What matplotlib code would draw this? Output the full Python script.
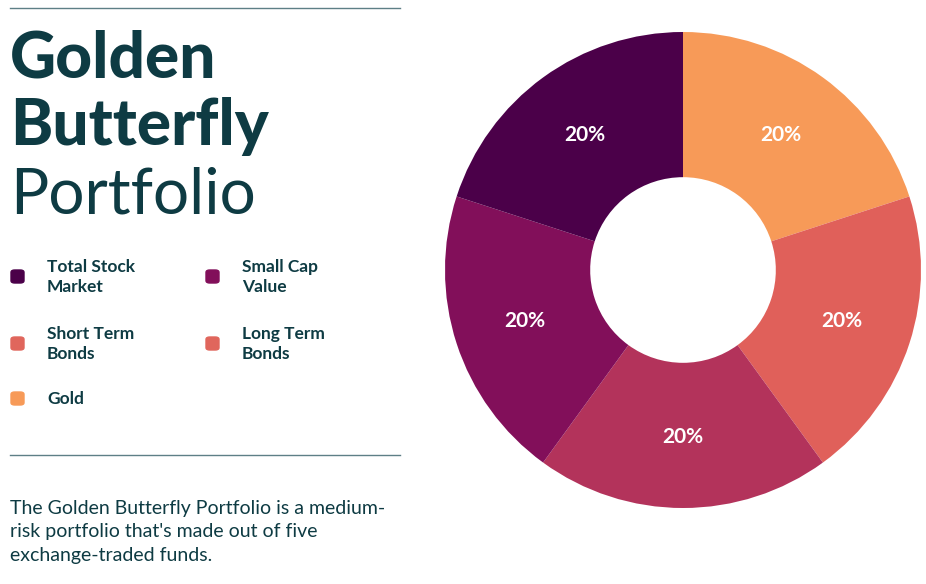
import matplotlib.pyplot as plt
from matplotlib.patches import FancyBboxPatch

# === Data ===
labels = ["Gold", "Long Term Bonds", "Short Term Bonds", "Small Cap Value", "Total Stock Market"]
shares = [20, 20, 20, 20, 20]
pie_colors = ["#F79A58", "#E0605A", "#B3335B", "#820F5A", "#4B0049"]

legend_labels = ["Total Stock\nMarket", "Small Cap\nValue", "Short Term\nBonds", "Long Term\nBonds", "Gold"]
legend_colors = ["#4B0049", "#820F5A", "#E0665C", "#E0665C", "#F79A58"]

W, H = 926, 584
ink = "#0E3B43"
plt.rcParams["font.family"] = "Lato"

fig = plt.figure(figsize=(W / 100, H / 100), dpi=100)
fig.patch.set_facecolor("white")

def px(x, y):
    return x / W, 1 - y / H

# === Donut ===
cx, cy, r = 683, 270, 238
ax = fig.add_axes([(cx - r) / W, (H - cy - r) / H, 2 * r / W, 2 * r / H])
wedges, texts, autotexts = ax.pie(
    shares, colors=pie_colors, startangle=90, counterclock=False,
    autopct="%d%%", pctdistance=0.70, radius=1,
    wedgeprops=dict(width=0.61, edgecolor="none"),
    textprops=dict(color="white", fontsize=15, fontweight="bold"),
)
ax.set_xlim(-1, 1)
ax.set_ylim(-1, 1)
ax.set_aspect("auto")
ax.axis("off")

# === Left text panel ===
for y in (8, 455):
    fig.add_artist(plt.Line2D([10 / W, 400 / W], [1 - y / H] * 2, color="#5E7F86", lw=1))

fig.text(*px(10, 77), "Golden", fontsize=46, fontweight="heavy", color=ink, va="baseline")
fig.text(*px(10, 145), "Butterfly", fontsize=46, fontweight="heavy", color=ink, va="baseline")
fig.text(*px(10, 213), "Portfolio", fontsize=46, color=ink, va="baseline")

pos = [(18, 276), (213, 276), (18, 343), (213, 343), (18, 398)]
for (x, y), lab, col in zip(pos, legend_labels, legend_colors):
    bx, by = px(x - 7, y + 7)
    fig.add_artist(FancyBboxPatch((bx, by), 13 / W, 13 / H, boxstyle="round,pad=0,rounding_size=0.004",
                                  transform=fig.transFigure, color=col))
    fig.text(*px(x + 29, y + 1), lab, fontsize=12.5, fontweight="bold", color=ink,
             va="center", linespacing=1.35)

fig.text(*px(10, 532), "The Golden Butterfly Portfolio is a medium-\nrisk portfolio that's made out of five\nexchange-traded funds.",
         fontsize=14, color=ink, va="center", linespacing=1.45)

fig.savefig("out.png", dpi=100, facecolor="white")
